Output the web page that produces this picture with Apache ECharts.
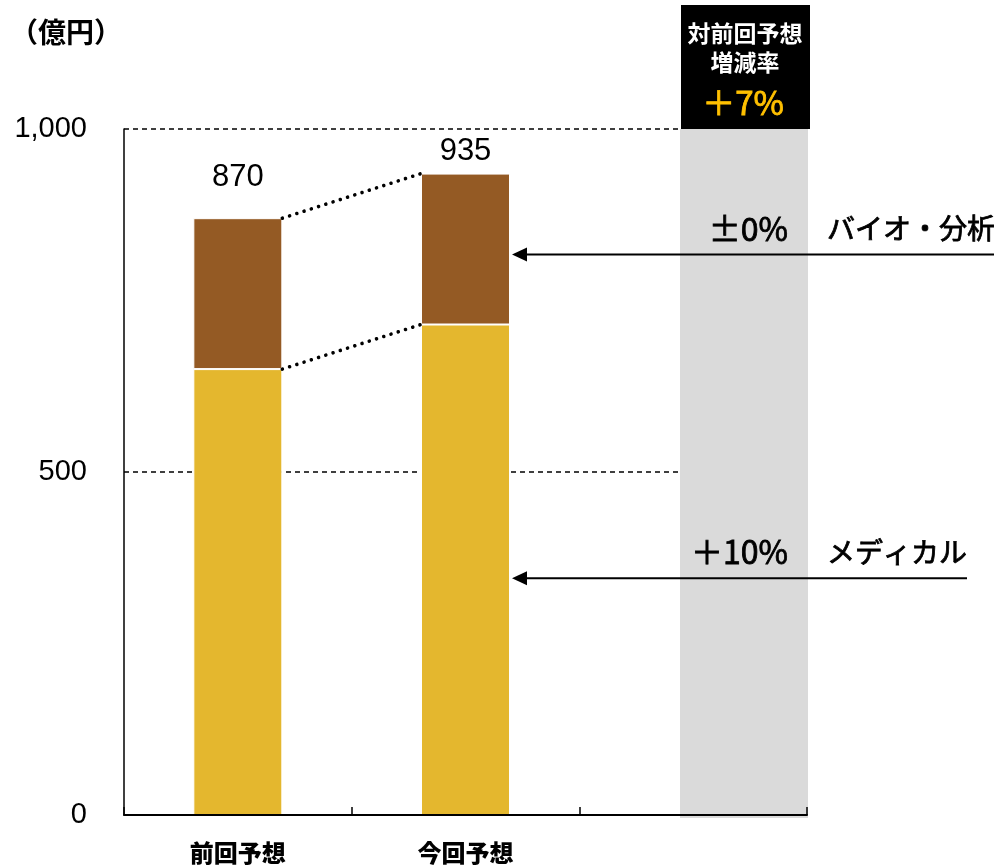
<!DOCTYPE html>
<html>
<head>
<meta charset="utf-8">
<script src="https://cdn.jsdelivr.net/npm/echarts@6/dist/echarts.min.js"></script>
<style>
  html, body { margin: 0; padding: 0; background: #fff; }
  #chart { width: 994px; height: 865px; }
</style>
</head>
<body>
<div id="chart"></div>
<script>
// Forecast by segment (100 million yen)
const categories = ['前回予想', '今回予想', ''];
const medical = [650, 715, null];
const bio = [220, 220, null];
const totals = [870, 935];
const yMin = 0;
const yMax = 1000;
const yInterval = 500;

// Change vs. previous forecast, per segment and overall
const segmentNames = ['メディカル', 'バイオ・分析'];
const segmentRates = ['＋10%', '±0%'];
const arrowTargets = [345, 817];
const headerLines = ['対前回予想', '増減率'];
const overallRate = '＋7%';
const unitLabel = '（億円）';

// Styling
const COLOR_MEDICAL = '#E4B72E';
const COLOR_BIO = '#945A24';
const COLOR_BAND = '#DADADA';
const BAR_WIDTH = 89;
const TOTAL_LABEL_DIST = [25, 7];
const ARROW_END_X = [967, 994];
const RATE_RIGHT_X = 788;
const NAME_LEFT_X = 827;
const JP = '"Noto Sans CJK JP", sans-serif';
const NUM = '"Liberation Sans", Arial, sans-serif';

const chart = echarts.init(document.getElementById('chart'));

const connectorData = [
  [0, totals[0], 1, totals[1]],
  [0, medical[0], 1, medical[1]]
];

const option = {
  animation: false,
  backgroundColor: '#fff',
  grid: { left: 124, right: 187, top: 129, bottom: 47, containLabel: false },
  xAxis: {
    type: 'category',
    data: categories,
    z: 5,
    axisLine: { lineStyle: { color: '#000', width: 2 } },
    axisTick: { show: true, inside: true, length: 8, lineStyle: { color: '#000', width: 1.5 } },
    axisLabel: {
      color: '#000', fontFamily: JP, fontSize: 24, fontWeight: 900, margin: 26
    },
    splitLine: { show: false }
  },
  yAxis: {
    type: 'value',
    min: yMin, max: yMax, interval: yInterval,
    z: 0,
    axisLine: { show: true, lineStyle: { color: '#000', width: 1.5 } },
    axisTick: { show: false },
    axisLabel: {
      color: '#000', fontFamily: NUM, fontSize: 29, margin: 37,
      formatter: v => v.toLocaleString('en-US')
    },
    splitLine: { show: true, lineStyle: { color: '#000', width: 1.5, type: [5, 4] } }
  },
  graphic: [
    {
      type: 'text', z: 1,
      style: { x: 10, y: 32, text: unitLabel, fill: '#000', font: 'bold 28px ' + JP, verticalAlign: 'middle' }
    },
    {
      type: 'rect', z: 1,
      shape: { x: 680, y: 129, width: 128, height: 689 },
      style: { fill: COLOR_BAND }
    },
    {
      type: 'rect', z: 1,
      shape: { x: 681, y: 5, width: 129, height: 124 },
      style: { fill: '#000' }
    },
    {
      type: 'text', z: 2,
      style: { x: 745, y: 33, text: headerLines[0], fill: '#fff', font: 'bold 23px ' + JP, align: 'center', verticalAlign: 'middle' }
    },
    {
      type: 'text', z: 2,
      style: { x: 745, y: 62, text: headerLines[1], fill: '#fff', font: 'bold 23px ' + JP, align: 'center', verticalAlign: 'middle' }
    },
    {
      type: 'text', z: 2,
      style: {
        x: 743, y: 102, text: overallRate, fill: '#FFC000', stroke: '#FFC000', lineWidth: 0.8,
        font: '33px ' + JP, align: 'center', verticalAlign: 'middle'
      }
    }
  ],
  series: [
    {
      name: 'メディカル',
      type: 'bar',
      stack: 'total',
      barWidth: BAR_WIDTH,
      data: medical,
      itemStyle: { color: COLOR_MEDICAL, borderColor: '#fff', borderWidth: 1 },
      z: 2
    },
    {
      name: 'バイオ・分析',
      type: 'bar',
      stack: 'total',
      barWidth: BAR_WIDTH,
      data: bio.map((v, i) => ({
        value: v,
        label: { distance: TOTAL_LABEL_DIST[i] }
      })),
      itemStyle: { color: COLOR_BIO, borderColor: '#fff', borderWidth: 1 },
      label: {
        show: true,
        position: 'top',
        color: '#000',
        fontFamily: NUM,
        fontSize: 31,
        lineHeight: 31,
        formatter: p => (totals[p.dataIndex] != null ? String(totals[p.dataIndex]) : '')
      },
      z: 2
    },
    {
      // dotted connectors between the two bars
      type: 'custom',
      coordinateSystem: 'cartesian2d',
      dimensions: ['x1', 'y1', 'x2', 'y2'],
      encode: { x: [0, 2], y: [1, 3] },
      data: connectorData,
      z: 6,
      silent: true,
      renderItem: (params, api) => {
        const a = api.coord([api.value(0), api.value(1)]);
        const b = api.coord([api.value(2), api.value(3)]);
        const hw = BAR_WIDTH / 2;
        return {
          type: 'line',
          shape: { x1: a[0] + hw, y1: a[1], x2: b[0] - hw, y2: b[1] },
          style: { stroke: '#000', lineWidth: 3.6, lineDash: [0.01, 7.6], lineCap: 'round', fill: null }
        };
      }
    },
    {
      // arrows with segment change labels
      type: 'custom',
      coordinateSystem: 'cartesian2d',
      clip: false,
      data: arrowTargets.map((v, i) => [1, v, i]),
      encode: { x: 0, y: 1 },
      z: 10,
      silent: true,
      renderItem: (params, api) => {
        const i = api.value(2);
        const p = api.coord([api.value(0), api.value(1)]);
        const x0 = p[0] + BAR_WIDTH / 2 + 2;
        const y = p[1];
        const xEnd = ARROW_END_X[i];
        return {
          type: 'group',
          children: [
            {
              type: 'line',
              shape: { x1: x0 + 12, y1: y, x2: xEnd, y2: y },
              style: { stroke: '#000', lineWidth: 2 }
            },
            {
              type: 'polygon',
              shape: { points: [[x0, y], [x0 + 15, y - 7], [x0 + 15, y + 7]] },
              style: { fill: '#000' }
            },
            {
              type: 'text',
              style: {
                x: RATE_RIGHT_X, y: y - 26, text: segmentRates[i],
                fill: '#000', stroke: '#000', lineWidth: 0.8,
                font: '32px ' + JP, align: 'right', verticalAlign: 'middle'
              }
            },
            {
              type: 'text',
              style: {
                x: NAME_LEFT_X, y: y - 26, text: segmentNames[i],
                fill: '#000', stroke: '#000', lineWidth: 0.8,
                font: '28px ' + JP, align: 'left', verticalAlign: 'middle'
              }
            }
          ]
        };
      }
    }
  ]
};

chart.setOption(option);
</script>
</body>
</html>
